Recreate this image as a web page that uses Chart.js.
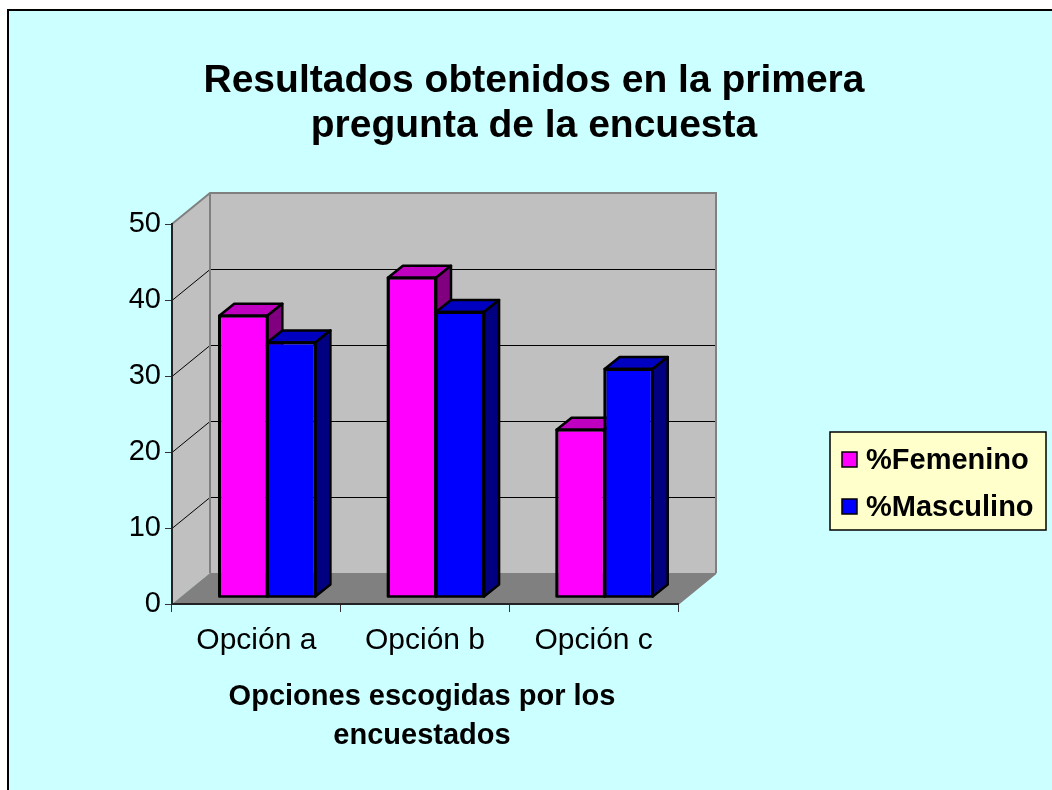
<!DOCTYPE html>
<html>
<head>
<meta charset="utf-8">
<script src="https://cdn.jsdelivr.net/npm/chart.js@4.4.1/dist/chart.umd.min.js"></script>
<style>
  html, body { margin: 0; padding: 0; background: #fff; overflow: hidden; }
  #frame { position: absolute; left: 7px; top: 9px; width: 1100px; height: 900px;
           background: #ccffff; border-left: 2px solid #000; border-top: 2px solid #000; }
  #chart { position: absolute; left: 0; top: 0; }
</style>
</head>
<body>
<div id="frame"></div>
<canvas id="chart" width="1052" height="790"></canvas>
<script>
const categories = ['Opción a', 'Opción b', 'Opción c'];
const femenino = [37, 42, 22];
const masculino = [33.5, 37.5, 30];
const yTicks = [0, 10, 20, 30, 40, 50];
const seriesNames = ['%Femenino', '%Masculino'];
const titleLines = ['Resultados obtenidos en la primera', 'pregunta de la encuesta'];
const xTitleLines = ['Opciones escogidas por los', 'encuestados'];

const FONT = '"Liberation Sans", Arial, sans-serif';
// depth of the 3d box, offset of the bars inside it, and depth of each bar
const DEPTH = { x: 38, y: -31 };
const SHIFT = { x: 11, y: -7 };
const BAR = { x: 15, y: -12 };

const faces = [
  { front: '#ff00ff', top: '#c000c0', side: '#800080' },
  { front: '#0000ff', top: '#0000c0', side: '#000080' }
];

function poly(ctx, pts) {
  ctx.beginPath();
  ctx.moveTo(pts[0][0], pts[0][1]);
  for (let i = 1; i < pts.length; i++) ctx.lineTo(pts[i][0], pts[i][1]);
  ctx.closePath();
}

const walls = {
  id: 'walls',
  beforeDraw(chart) {
    const ctx = chart.ctx;
    const { left, right, top, bottom } = chart.chartArea;
    const y = chart.scales.y;
    const dx = DEPTH.x, dy = DEPTH.y;
    ctx.save();
    ctx.fillStyle = '#c0c0c0';
    poly(ctx, [[left, top], [left + dx, top + dy], [left + dx, bottom + dy], [left, bottom]]);
    ctx.fill();
    ctx.fillRect(left + dx, top + dy, right - left, bottom - top);
    ctx.fillStyle = '#808080';
    poly(ctx, [[left, bottom], [right, bottom], [right + dx, bottom + dy], [left + dx, bottom + dy]]);
    ctx.fill();

    ctx.strokeStyle = '#000';
    ctx.lineWidth = 1;
    yTicks.forEach(v => {
      if (v === y.min || v === y.max) return;
      const py = Math.round(y.getPixelForValue(v)) + 0.5;
      ctx.beginPath();
      ctx.moveTo(left, py);
      ctx.lineTo(left + dx, py + dy);
      ctx.lineTo(right + dx, py + dy);
      ctx.stroke();
    });

    ctx.strokeStyle = '#808080';
    ctx.lineWidth = 2;
    ctx.beginPath();
    ctx.moveTo(left, top);
    ctx.lineTo(left + dx, top + dy);
    ctx.lineTo(right + dx, top + dy);
    ctx.lineTo(right + dx, bottom + dy);
    ctx.moveTo(left + dx, top + dy);
    ctx.lineTo(left + dx, bottom + dy);
    ctx.moveTo(right, bottom);
    ctx.lineTo(right + dx, bottom + dy);
    ctx.stroke();
    ctx.restore();
  }
};

// bars are drawn here, first series first, so the next bar hides the side face
const bars3d = {
  id: 'bars3d',
  beforeDatasetDraw() {
    return false;
  },
  afterDatasetsDraw(chart) {
    const ctx = chart.ctx;
    chart.data.datasets.forEach((ds, i) => {
      const f = faces[i];
      ctx.save();
      ctx.translate(SHIFT.x, SHIFT.y);
      chart.getDatasetMeta(i).data.forEach(bar => {
        bar.draw(ctx);
        const { x, y, base, width } = bar.getProps(['x', 'y', 'base', 'width'], true);
        const l = x - width / 2, r = x + width / 2;
        ctx.lineWidth = 2.5;
        ctx.lineJoin = 'round';
        ctx.strokeStyle = '#000';
        ctx.fillStyle = f.top;
        poly(ctx, [[l, y], [l + BAR.x, y + BAR.y], [r + BAR.x, y + BAR.y], [r, y]]);
        ctx.fill();
        ctx.stroke();
        ctx.fillStyle = f.side;
        poly(ctx, [[r, y], [r + BAR.x, y + BAR.y], [r + BAR.x, base + BAR.y], [r, base]]);
        ctx.fill();
        ctx.stroke();
        ctx.strokeRect(l, y, width, base - y);
      });
      ctx.restore();
    });
  }
};

const texts = {
  id: 'texts',
  afterDraw(chart) {
    const ctx = chart.ctx;
    ctx.save();
    ctx.fillStyle = '#000';
    ctx.textAlign = 'center';
    ctx.textBaseline = 'middle';
    ctx.font = 'bold 39px ' + FONT;
    ctx.fillText(titleLines[0], 534, 81);
    ctx.fillText(titleLines[1], 534, 126);
    ctx.font = 'bold 29px ' + FONT;
    ctx.fillText(xTitleLines[0], 422, 697);
    ctx.fillText(xTitleLines[1], 422, 736);

    // legend
    ctx.fillStyle = '#ffffcc';
    ctx.fillRect(830, 432, 216, 98);
    ctx.strokeStyle = '#000';
    ctx.lineWidth = 1.5;
    ctx.strokeRect(830, 432, 216, 98);
    ctx.textAlign = 'left';
    ctx.font = 'bold 29px ' + FONT;
    chart.data.datasets.forEach((ds, i) => {
      const cy = 460 + i * 47;
      ctx.fillStyle = ds.backgroundColor;
      ctx.fillRect(842, cy - 8, 15, 15);
      ctx.lineWidth = 1.5;
      ctx.strokeRect(842, cy - 8, 15, 15);
      ctx.fillStyle = '#000';
      ctx.fillText(ds.label, 866, cy + 1);
    });
    ctx.restore();
  }
};

new Chart(document.getElementById('chart'), {
  type: 'bar',
  data: {
    labels: categories,
    datasets: [
      {
        label: seriesNames[0],
        data: femenino,
        backgroundColor: faces[0].front,
        borderColor: '#000',
        borderWidth: 2
      },
      {
        label: seriesNames[1],
        data: masculino,
        backgroundColor: faces[1].front,
        borderColor: '#000',
        borderWidth: 2
      }
    ]
  },
  options: {
    responsive: false,
    animation: false,
    layout: { padding: { top: 224, right: 374, bottom: 0, left: 0 } },
    datasets: { bar: { categoryPercentage: 0.57, barPercentage: 1 } },
    scales: {
      x: {
        grid: { drawOnChartArea: false, tickLength: 8, color: '#333', offset: true },
        border: { color: '#222', width: 2 },
        ticks: { color: '#000', font: { family: FONT, size: 30 }, padding: 11 },
        afterFit(s) { s.height = 186; }
      },
      y: {
        min: 0,
        max: 50,
        grid: { drawOnChartArea: false, tickLength: 7, color: '#333' },
        border: { color: '#222', width: 2 },
        ticks: { stepSize: 10, color: '#000', font: { family: FONT, size: 29 }, padding: 4 },
        afterFit(s) { s.width = 172; }
      }
    },
    plugins: {
      legend: { display: false },
      title: { display: false },
      tooltip: { enabled: false }
    }
  },
  plugins: [walls, bars3d, texts]
});
</script>
</body>
</html>
